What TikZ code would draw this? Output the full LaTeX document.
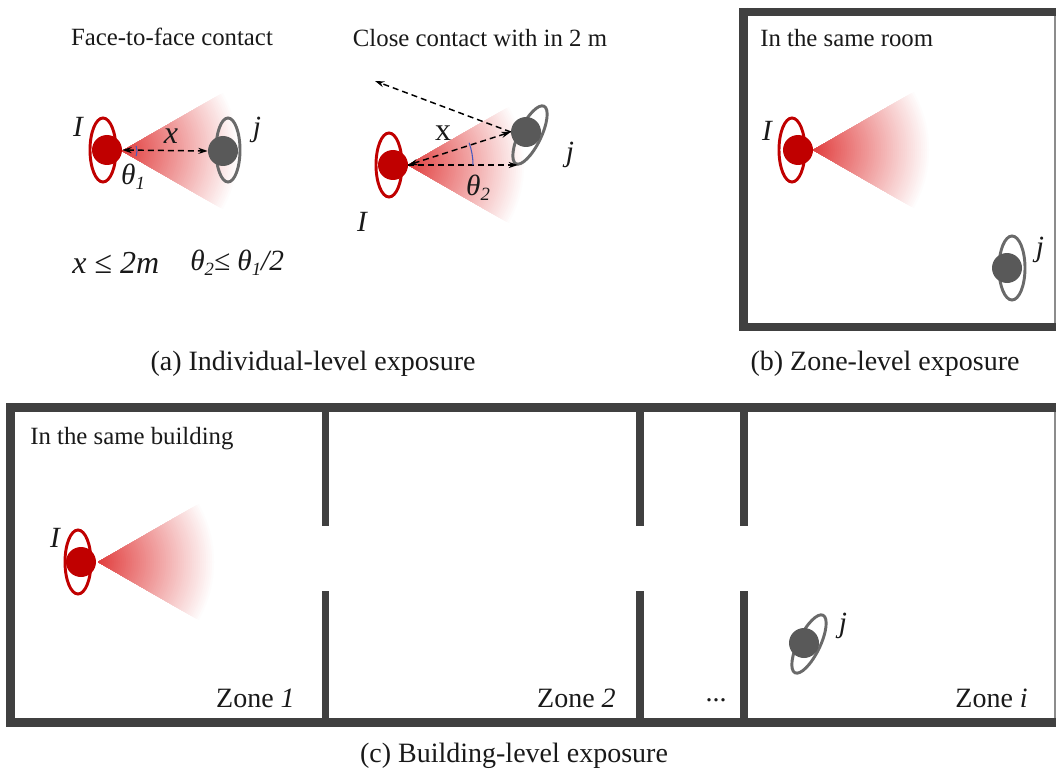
\documentclass[tikz,border=0pt]{standalone}
\usepackage{fontspec}
\setmainfont{Liberation Serif}
\usetikzlibrary{arrows.meta}
\definecolor{ired}{RGB}{192,0,0}
\definecolor{jgray}{RGB}{89,89,89}
\definecolor{wallc}{RGB}{64,64,64}
\definecolor{conec}{RGB}{225,60,60}
\definecolor{arcc}{RGB}{70,90,190}
\newcommand{\conefan}[2]{%
  \foreach \r in {118,116,...,2}{%
    \pgfmathsetmacro{\p}{100*(1-(\r/118))}%
    \fill[conec!\p!white,shift={(#1,#2)}] (0,0) -- (-30:\r) arc[start angle=-30,end angle=30,radius=\r] -- cycle;
  }}
\newcommand{\thsub}[1]{\textit{θ}\raisebox{-4pt}{\fontsize{14pt}{14pt}\selectfont\textit{#1}}}
\tikzset{
  x=0.75pt,y=-0.75pt,
  captxt/.style={font=\fontsize{21pt}{24pt}\selectfont,inner sep=0pt,text=black!90},
  txt/.style={font=\fontsize{18.6pt}{20pt}\selectfont,inner sep=0pt,text=black!90},
  lab/.style={font=\fontsize{22pt}{24pt}\selectfont\itshape,inner sep=0pt,text=black!90},
  labb/.style={font=\fontsize{24pt}{26pt}\selectfont\itshape,inner sep=0pt,text=black!90},
  wall/.style={draw=wallc,line width=6.3pt},
  wallin/.style={draw=wallc,line width=5.6pt},
  idisc/.style={circle,fill=ired,minimum size=22.5pt,inner sep=0pt},
  jdisc/.style={circle,fill=jgray,minimum size=22.5pt,inner sep=0pt},
  iring/.style={draw=ired,line width=2.2pt},
  jring/.style={draw=jgray!90,line width=2.2pt},
  dash arrow/.style={dash pattern=on 4.5pt off 3pt,line width=1.1pt,black,-{Stealth[length=7pt,width=4.5pt]}},
  dash both/.style={dash arrow,{Stealth[length=7pt,width=4.5pt]}-{Stealth[length=7pt,width=4.5pt]}},
  thin edge/.style={draw=black!45,line width=1pt},
  anglearc/.style={draw=arcc,line width=0.8pt},
}
\begin{document}
\begin{tikzpicture}
\useasboundingbox (0,0) rectangle (1056,770);
% --- a1
\conefan{122}{151}
\draw[iring] (103,150) ellipse [x radius=13,y radius=32];
\node[idisc] (i1) at (107,150) {};
\draw[jring] (228,150) ellipse [x radius=12,y radius=32];
\node[jdisc] (j1) at (223,151) {};
\draw[dash both] (i1.east) -- (j1.west);
\draw[anglearc] (122,151) ++(-20:15) arc[start angle=-20,end angle=20,radius=15];
\node[lab] (li1) at (78,127) {I};
\node[lab] (lj1) at (257,130) {j};
\node[labb] (lx1) at (171,136) {x};
\node[lab] (lt1) at (133,177) {\thsub{1}};
\node[txt] (t1) at (172,37) {Face-to-face contact};
\node[labb,anchor=west] (f1) at (72,263) {x ≤ 2m};
\node[lab,anchor=west] (f2) at (190,263) {\thsub{2}≤ \thsub{1}/2};
% --- a2
\conefan{408}{165}
\draw[iring] (389,165) ellipse [x radius=13,y radius=32];
\node[idisc] (i2) at (393,165) {};
\draw[jring,rotate around={-26:(530,135)}] (530,135) ellipse [x radius=11,y radius=32];
\node[jdisc] (j2) at (526,132) {};
\coordinate (far) at (375,81);
\coordinate (foot) at (518,165);
\draw[dash arrow] (i2.east) -- (foot);
\draw[dash both] (i2.east) -- (j2.west);
\draw[dash arrow] (j2.west) -- (far);
\draw[anglearc] (408,165) ++(0:65) arc[start angle=0,end angle=-20,radius=65];
\node[lab] (li2) at (362,222) {I};
\node[lab] (lj2) at (570,155) {j};
\node[labb,font=\fontsize{24pt}{26pt}\selectfont] (lx2) at (443,133) {x};
\node[lab] (lt2) at (478,188) {\thsub{2}};
\node[txt] (t2) at (480,38) {Close contact with in 2 m};
\node[captxt] (ca) at (313,364) {(a) Individual-level exposure};
% --- b
\draw[thin edge] (1055,12) -- (1055,327);
\draw[wall] (743.5,12) -- (1056,12);
\draw[wall] (743.5,327) -- (1056,327);
\draw[wall] (743.5,8) -- (743.5,331);
\conefan{813}{150}
\draw[iring] (792,150) ellipse [x radius=13,y radius=32];
\node[idisc] (i3) at (798,150) {};
\draw[jring] (1012,268) ellipse [x radius=13,y radius=32];
\node[jdisc] (j3) at (1007,268) {};
\node[lab] (li3) at (767,131) {I};
\node[lab] (lj3) at (1040,250) {j};
\node[txt,anchor=west] (t3) at (760,38) {In the same room};
\node[captxt] (cb) at (885,364) {(b) Zone-level exposure};
% --- c
\draw[thin edge] (1055,407.5) -- (1055,722.5);
\draw[wall] (6.5,407.5) -- (1056,407.5);
\draw[wall] (6.5,722.5) -- (1056,722.5);
\draw[wall] (10.5,403.3) -- (10.5,726.7);
\draw[wallin] (325.5,407) -- (325.5,526);
\draw[wallin] (325.5,591) -- (325.5,722);
\draw[wallin] (640,407) -- (640,526);
\draw[wallin] (640,591) -- (640,722);
\draw[wallin] (744,407) -- (744,526);
\draw[wallin] (744,591) -- (744,722);
\conefan{98}{562}
\draw[iring] (78,562) ellipse [x radius=13,y radius=32];
\node[idisc] (i4) at (81,562) {};
\draw[jring,rotate around={-26:(809,644)}] (809,644) ellipse [x radius=11,y radius=32];
\node[jdisc] (j4) at (804,643) {};
\node[lab] (li4) at (55,538) {I};
\node[lab] (lj4) at (843,626) {j};
\node[txt,anchor=west] (t4) at (30,439) {In the same building};
\node[captxt,anchor=east] (z1) at (295,698) {Zone \textit{1}};
\node[captxt,anchor=east] (z2) at (616,698) {Zone \textit{2}};
\node[captxt] (z3) at (716,700) {...};
\node[captxt,anchor=east] (z4) at (1028,698) {Zone \textit{i}};
\node[captxt] (cc) at (514,756) {(c) Building-level exposure};
\end{tikzpicture}
\end{document}
